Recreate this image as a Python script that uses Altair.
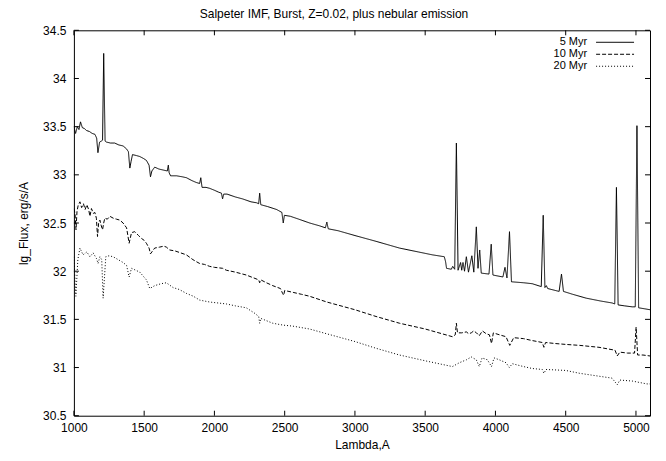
import altair as alt
import pandas as pd

chart_title = "Salpeter IMF, Burst, Z=0.02, plus nebular emission"
x_title = "Lambda,A"
y_title = "lg_Flux, erg/s/A"
series_names = ["5 Myr", "10 Myr", "20 Myr"]

x_ticks = [1000, 1500, 2000, 2500, 3000, 3500, 4000, 4500, 5000]
y_ticks = [30.5, 31, 31.5, 32, 32.5, 33, 33.5, 34, 34.5]

# 5 Myr (solid)
lam5 = [1000, 1012, 1024, 1036, 1047, 1060, 1075, 1090, 1110, 1130, 1150, 1162, 1171, 1183, 1195,
        1204, 1212, 1222, 1232, 1260, 1290, 1320, 1350, 1374, 1388, 1398, 1407, 1417, 1445, 1469,
        1495, 1516, 1535, 1545, 1555, 1575, 1605, 1635, 1665, 1672, 1678, 1688, 1730, 1770, 1801,
        1840, 1872, 1895, 1903, 1912, 1940, 1966, 2000, 2030, 2050, 2058, 2066, 2090, 2150, 2201,
        2260, 2300, 2315, 2322, 2330, 2380, 2443, 2480, 2490, 2498, 2540, 2600, 2678, 2750, 2790,
        2800, 2810, 2880, 3000, 3150, 3317, 3450, 3550, 3636, 3645, 3652, 3686, 3696, 3710, 3722,
        3734, 3752, 3760, 3769, 3780, 3793, 3808, 3832, 3846, 3864, 3876, 3888, 3899, 3954, 3970,
        3982, 4053, 4068, 4082, 4100, 4114, 4200, 4262, 4326, 4340, 4352, 4362, 4372, 4453, 4470,
        4484, 4550, 4646, 4750, 4831, 4849, 4861, 4873, 4920, 4973, 4995, 5007, 5019, 5060, 5100]
flux5 = [33.50, 33.43, 33.50, 33.47, 33.55, 33.49, 33.48, 33.46, 33.45, 33.43, 33.42, 33.38, 33.23, 33.34, 33.35,
         33.36, 34.26, 33.35, 33.34, 33.33, 33.33, 33.31, 33.30, 33.27, 33.24, 33.07, 33.14, 33.21, 33.20, 33.19,
         33.17, 33.15, 33.10, 32.98, 33.04, 33.08, 33.06, 33.05, 33.04, 33.10, 33.02, 32.99, 32.99, 32.98, 32.97,
         32.94, 32.92, 32.91, 32.97, 32.87, 32.87, 32.86, 32.84, 32.82, 32.81, 32.75, 32.80, 32.80, 32.77, 32.75,
         32.72, 32.71, 32.70, 32.81, 32.69, 32.67, 32.64, 32.61, 32.50, 32.58, 32.57, 32.54, 32.50, 32.47, 32.45,
         32.51, 32.44, 32.42, 32.37, 32.31, 32.24, 32.20, 32.17, 32.15, 32.10, 32.03, 32.02, 32.05, 32.02, 33.33,
         32.01, 32.09, 32.01, 32.09, 32.00, 32.15, 31.99, 32.16, 31.99, 32.46, 32.03, 32.22, 31.98, 31.97, 32.28,
         31.96, 31.94, 32.04, 31.93, 32.41, 31.89, 31.88, 31.87, 31.84, 32.58, 31.83, 31.85, 31.82, 31.79, 31.97,
         31.79, 31.76, 31.72, 31.69, 31.67, 31.66, 32.87, 31.65, 31.64, 31.63, 31.63, 33.51, 31.62, 31.61, 31.60]

# 10 Myr (dashed)
lam10 = [1000, 1008, 1015, 1022, 1030, 1043, 1055, 1068, 1080, 1092, 1105, 1114, 1125, 1138, 1149,
         1160, 1168, 1176, 1185, 1195, 1204, 1212, 1220, 1238, 1256, 1280, 1303, 1327, 1350, 1375,
         1393, 1410, 1433, 1460, 1481, 1500, 1516, 1535, 1545, 1560, 1575, 1610, 1640, 1658, 1682,
         1720, 1760, 1800, 1847, 1870, 1895, 1930, 1966, 2000, 2058, 2085, 2150, 2227, 2280, 2315,
         2322, 2330, 2370, 2415, 2470, 2485, 2493, 2500, 2560, 2620, 2677, 2800, 3000, 3150, 3317,
         3500, 3694, 3714, 3722, 3730, 3760, 3793, 3810, 3828, 3845, 3865, 3885, 3907, 3935, 3957,
         3972, 3985, 4028, 4075, 4102, 4130, 4200, 4262, 4333, 4345, 4357, 4420, 4500, 4600, 4737,
         4851, 4867, 4885, 4940, 4990, 5001, 5012, 5050, 5100]
flux10 = [32.65, 32.60, 32.43, 32.62, 32.68, 32.72, 32.66, 32.70, 32.64, 32.69, 32.64, 32.57, 32.65, 32.60, 32.61,
          32.55, 32.36, 32.50, 32.53, 32.47, 32.43, 32.50, 32.55, 32.54, 32.57, 32.55, 32.54, 32.53, 32.50, 32.45,
          32.29, 32.40, 32.41, 32.37, 32.34, 32.32, 32.29, 32.24, 32.18, 32.21, 32.24, 32.25, 32.26, 32.25, 32.22,
          32.21, 32.19, 32.17, 32.12, 32.10, 32.08, 32.07, 32.05, 32.04, 32.03, 32.01, 31.99, 31.96, 31.93, 31.91,
          31.88, 31.91, 31.88, 31.85, 31.82, 31.77, 31.75, 31.80, 31.78, 31.76, 31.74, 31.68, 31.60, 31.53, 31.46,
          31.40, 31.32, 31.34, 31.46, 31.36, 31.36, 31.37, 31.35, 31.36, 31.38, 31.36, 31.33, 31.38, 31.35, 31.34,
          31.25, 31.36, 31.34, 31.32, 31.23, 31.31, 31.30, 31.28, 31.26, 31.21, 31.26, 31.25, 31.24, 31.23, 31.21,
          31.18, 31.12, 31.16, 31.15, 31.15, 31.42, 31.13, 31.13, 31.12]

# 20 Myr (dotted)
lam20 = [1000, 1014, 1028, 1043, 1065, 1092, 1114, 1137, 1161, 1172, 1185, 1198, 1208, 1227, 1250,
         1279, 1315, 1350, 1375, 1393, 1410, 1440, 1469, 1516, 1540, 1575, 1620, 1658, 1706, 1750,
         1800, 1850, 1895, 1966, 2085, 2150, 2227, 2290, 2315, 2322, 2330, 2415, 2490, 2557, 2677,
         2800, 3000, 3150, 3317, 3500, 3694, 3743, 3793, 3828, 3864, 3885, 3905, 3943, 3972, 3990,
         4028, 4075, 4099, 4120, 4200, 4262, 4333, 4345, 4360, 4500, 4600, 4737, 4830, 4867, 4885,
         4973, 5078, 5100]
flux20 = [32.15, 31.74, 32.12, 32.24, 32.17, 32.20, 32.15, 32.19, 32.13, 32.08, 32.15, 32.12, 31.72, 32.15, 32.16,
          32.15, 32.12, 32.09, 32.06, 31.94, 32.03, 32.01, 31.99, 31.91, 31.82, 31.85, 31.87, 31.88, 31.83, 31.81,
          31.77, 31.74, 31.70, 31.68, 31.66, 31.64, 31.62, 31.56, 31.53, 31.46, 31.51, 31.46, 31.44, 31.43, 31.40,
          31.35, 31.27, 31.20, 31.13, 31.07, 31.01, 31.05, 31.08, 31.11, 31.08, 31.01, 31.10, 31.08, 31.01, 31.10,
          31.08, 31.05, 31.00, 31.04, 31.01, 30.99, 30.98, 30.94, 30.98, 30.97, 30.94, 30.91, 30.89, 30.82, 30.87,
          30.86, 30.83, 30.83]

W, H = 577, 386
FONT = "Liberation Sans"

rows = []
for name, lam, flux in zip(series_names, [lam5, lam10, lam20], [flux5, flux10, flux20]):
    for l, f in zip(lam, flux):
        rows.append({"series": name, "lam": l, "flux": f})
df = pd.DataFrame(rows)

xscale = alt.Scale(domain=[1000, 5100], nice=False, zero=False)
yscale = alt.Scale(domain=[30.5, 34.5], nice=False, zero=False)
dash_scale = alt.Scale(domain=series_names, range=[[1, 0], [4, 2], [1, 2]])

x_axis = alt.Axis(values=x_ticks, format="d", title=x_title, labelPadding=7, labelFlush=False,
                  labelOverlap=False,
                  titleX=W / 2, titleY=29, titleBaseline="middle", titleAlign="center")
y_axis = alt.Axis(values=y_ticks, format="~g", title=y_title, labelPadding=8, labelFlush=False,
                  labelOverlap=False,
                  titleX=-50, titleY=H / 2, titleAngle=-90, titleBaseline="middle",
                  titleAlign="center")

lines = alt.Chart(df).mark_line(color="black", strokeWidth=1, clip=True).encode(
    x=alt.X("lam:Q", scale=xscale, axis=x_axis),
    y=alt.Y("flux:Q", scale=yscale, axis=y_axis),
    strokeDash=alt.StrokeDash("series:N", scale=dash_scale, legend=None),
)

tx = pd.DataFrame({"lam": x_ticks})
ty = pd.DataFrame({"flux": y_ticks})
TL = 5
tick_bottom = alt.Chart(tx).mark_rule(color="black", strokeWidth=1).encode(
    x=alt.X("lam:Q", scale=xscale, axis=x_axis), y=alt.value(H), y2=alt.value(H - TL))
tick_top = alt.Chart(tx).mark_rule(color="black", strokeWidth=1).encode(
    x=alt.X("lam:Q", scale=xscale, axis=x_axis), y=alt.value(0), y2=alt.value(TL))
tick_left = alt.Chart(ty).mark_rule(color="black", strokeWidth=1).encode(
    y=alt.Y("flux:Q", scale=yscale, axis=y_axis), x=alt.value(0), x2=alt.value(TL))
tick_right = alt.Chart(ty).mark_rule(color="black", strokeWidth=1).encode(
    y=alt.Y("flux:Q", scale=yscale, axis=y_axis), x=alt.value(W), x2=alt.value(W - TL))

legend_layers = []
for i, name in enumerate(series_names):
    ld = pd.DataFrame({"series": [name]})
    yy = 12 + 12 * i
    legend_layers.append(
        alt.Chart(ld).mark_text(align="right", baseline="middle", font=FONT, fontSize=11,
                                color="black").encode(
            text="series:N", x=alt.value(514), y=alt.value(yy)))
    legend_layers.append(
        alt.Chart(ld).mark_rule(color="black", strokeWidth=1).encode(
            x=alt.value(523), x2=alt.value(561), y=alt.value(yy),
            strokeDash=alt.StrokeDash("series:N", scale=dash_scale, legend=None)))

chart = alt.layer(lines, tick_bottom, tick_top, tick_left, tick_right, *legend_layers).properties(
    width=W, height=H,
    title=alt.Title(chart_title, font=FONT, fontSize=12, fontWeight="normal", color="black",
                    offset=3, dx=-28, anchor="middle"),
    autosize=alt.AutoSizeParams(type="none"),
    padding={"left": 66, "top": 22, "right": 8, "bottom": 40},
).configure_view(stroke="black", strokeWidth=1).configure_axis(
    domain=False, ticks=False, tickSize=0, grid=False,
    labelFont=FONT, labelFontSize=12, labelColor="black",
    titleFont=FONT, titleFontSize=12, titleFontWeight="normal", titleColor="black",
)

chart.save("out.html", embed_options={"renderer": "svg", "actions": False})
